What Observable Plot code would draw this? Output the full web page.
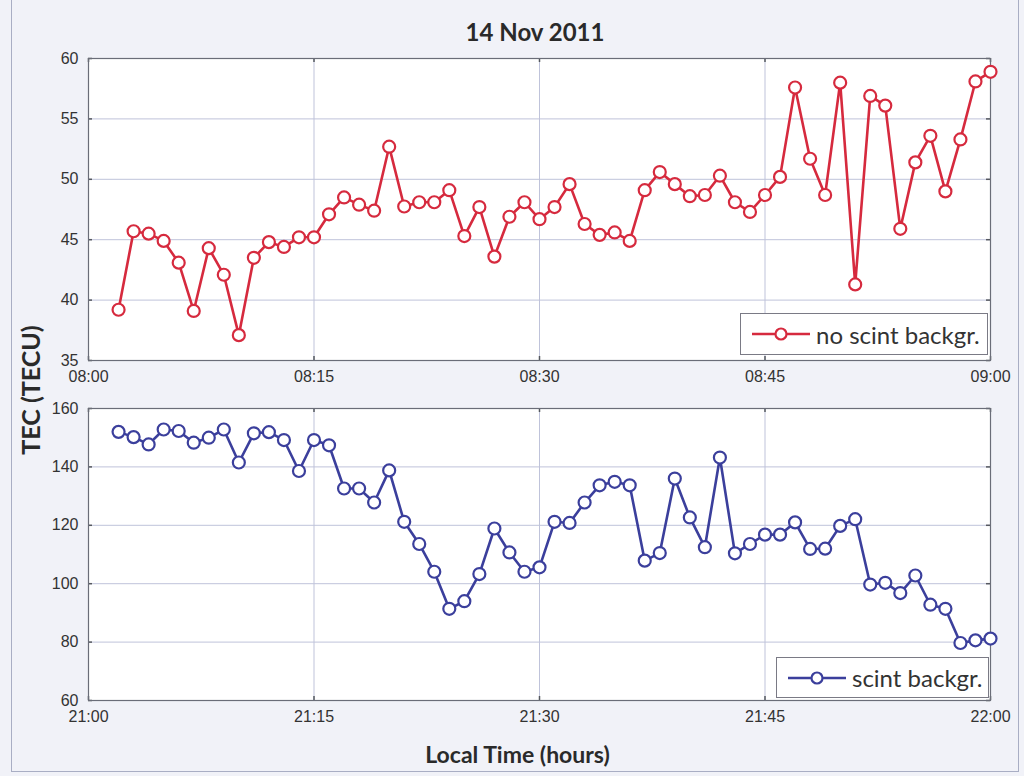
<!DOCTYPE html>
<html>
<head>
<meta charset="utf-8">
<script src="https://cdn.jsdelivr.net/npm/d3@7"></script>
<script src="https://cdn.jsdelivr.net/npm/@observablehq/plot@0.6"></script>
<style>
  html, body { margin: 0; padding: 0; background: #eceef5; }
  #wrap { position: relative; width: 1024px; height: 776px; overflow: hidden; background: #f1f2f8; }
  .abs { position: absolute; }
  .title { font-family: Lato, "Open Sans", sans-serif; font-weight: 700; font-size: 24px; color: #2a2a2a; }
  .legend { position: absolute; background: #ffffff; border: 1px solid #7a7a85; display: flex; align-items: center; box-sizing: border-box; }
  .legend span { font-family: Lato, "Open Sans", sans-serif; font-size: 24px; color: #333; white-space: nowrap; }
</style>
</head>
<body>
<div id="wrap">
  <div class="abs" style="left:11px;top:-2px;width:1008px;height:774px;border:1px solid #a9aec4;box-sizing:border-box;"></div>
  <div class="abs title" style="left:0;width:1070px;top:17px;text-align:center;">14 Nov 2011</div>
  <div id="top" class="abs" style="left:0;top:48px;"></div>
  <div id="bot" class="abs" style="left:0;top:390px;"></div>
  <div class="abs title" style="left:30px;top:390px;width:0;height:0;">
    <div style="position:absolute;transform:translate(-50%,-50%) rotate(-90deg);white-space:nowrap;font-size:25px;">TEC (TECU)</div>
  </div>
  <div class="abs title" style="left:0;width:1035px;top:740px;text-align:center;font-size:23px;">Local Time (hours)</div>
  <div id="legTop" class="legend" style="left:740px;top:313px;width:248px;height:42px;"></div>
  <div id="legBot" class="legend" style="left:776px;top:657px;width:213px;height:41px;"></div>
</div>
<script>
// minutes past the hour of each sample
const minutes = [2,3,4,5,6,7,8,9,10,11,12,13,14,15,16,17,18,19,20,21,22,23,24,25,26,27,28,29,30,31,32,33,34,35,36,37,38,39,40,41,42,43,44,45,46,47,48,49,50,51,52,53,54,55,56,57,58,59,60];
// 08:02 - 09:00, no scintillation background
const tecNoScint = [39.2,45.7,45.5,44.9,43.1,39.1,44.3,42.1,37.1,43.5,44.8,44.4,45.2,45.2,47.1,48.5,47.9,47.4,52.7,47.75,48.1,48.1,49.1,45.3,47.7,43.6,46.9,48.1,46.7,47.7,49.6,46.3,45.4,45.6,44.9,49.1,50.6,49.6,48.6,48.7,50.3,48.1,47.3,48.7,50.2,57.6,51.7,48.7,58.0,41.3,56.9,56.1,45.9,51.4,53.6,49.0,53.3,58.1,58.9];
// 21:02 - 22:00, scintillation background
const tecScint = [152.0,150.2,147.7,152.8,152.3,148.3,150.0,152.8,141.5,151.5,151.9,149.2,138.6,149.2,147.4,132.6,132.6,127.8,138.8,121.2,113.6,104.1,91.4,94.0,103.3,118.9,110.7,104.1,105.6,121.2,120.8,127.8,133.7,134.9,133.7,107.9,110.5,136.0,122.7,112.5,143.2,110.4,113.6,116.8,116.8,121.0,111.9,112.0,119.8,122.1,99.7,100.3,96.8,102.8,92.8,91.4,79.7,80.6,81.2];

const xTicks = [0,15,30,45,60];
const topXLabels = ["08:00","08:15","08:30","08:45","09:00"];
const botXLabels = ["21:00","21:15","21:30","21:45","22:00"];
const topYTicks = [35,40,45,50,55,60];
const botYTicks = [60,80,100,120,140,160];
const seriesNames = ["no scint backgr.", "scint backgr."];
const colors = ["#d62a3e", "#3b3f9c"];

function panel(values, labels, yTicks, yDomain, color, height, marginTop) {
  const data = minutes.map((m, i) => ({m, v: values[i]}));
  const marginBottom = 30, marginLeft = 88, marginRight = 34, width = 1024;
  const fh = height - marginTop - marginBottom;
  const fw = width - marginLeft - marginRight;
  const axisColor = "#55585f";
  return Plot.plot({
    width, height, marginLeft, marginRight, marginTop, marginBottom,
    style: {background: "transparent", fontFamily: "'Liberation Sans', Arial, sans-serif", fontSize: "16px", color: "#333"},
    x: {domain: [0, 60], label: null},
    y: {domain: yDomain, label: null},
    marks: [
      Plot.frame({fill: "white", stroke: null}),
      Plot.gridX(xTicks, {stroke: "#bfc3da", strokeOpacity: 1, strokeWidth: 1}),
      Plot.gridY(yTicks, {stroke: "#bfc3da", strokeOpacity: 1, strokeWidth: 1}),
      Plot.ruleX(xTicks, {insetTop: fh - 4, stroke: axisColor, strokeWidth: 1.5}),
      Plot.ruleX(xTicks, {insetBottom: fh - 4, stroke: axisColor, strokeWidth: 1.5}),
      Plot.ruleY(yTicks, {insetRight: fw - 4, stroke: axisColor, strokeWidth: 1.5}),
      Plot.ruleY(yTicks, {insetLeft: fw - 4, stroke: axisColor, strokeWidth: 1.5}),
      Plot.frame({stroke: "#6a6d78", strokeWidth: 1.2}),
      Plot.line(data, {x: "m", y: "v", stroke: color, strokeWidth: 2.6}),
      Plot.dot(data, {x: "m", y: "v", r: 6, stroke: color, strokeWidth: 2.2, fill: "white"}),
      Plot.axisX({ticks: xTicks, tickFormat: d => labels[xTicks.indexOf(d)], tickSize: 0, tickPadding: 10, fill: "#333", label: null}),
      Plot.axisY({ticks: yTicks, tickSize: 0, tickPadding: 10, fill: "#333", label: null})
    ]
  });
}

document.getElementById("top").appendChild(panel(tecNoScint, topXLabels, topYTicks, [35, 60], colors[0], 342, 10));
document.getElementById("bot").appendChild(panel(tecScint, botXLabels, botYTicks, [60, 160], colors[1], 340, 18));

function legend(el, name, color, lineW) {
  const ns = "http://www.w3.org/2000/svg";
  const svg = document.createElementNS(ns, "svg");
  svg.setAttribute("width", lineW + 22);
  svg.setAttribute("height", 20);
  svg.style.marginLeft = "10px";
  const ln = document.createElementNS(ns, "line");
  ln.setAttribute("x1", 1); ln.setAttribute("x2", lineW + 1);
  ln.setAttribute("y1", 10); ln.setAttribute("y2", 10);
  ln.setAttribute("stroke", color); ln.setAttribute("stroke-width", 2.6);
  const c = document.createElementNS(ns, "circle");
  c.setAttribute("cx", lineW / 2 + 1); c.setAttribute("cy", 10); c.setAttribute("r", 5.5);
  c.setAttribute("fill", "white"); c.setAttribute("stroke", color); c.setAttribute("stroke-width", 2.2);
  svg.appendChild(ln); svg.appendChild(c);
  const sp = document.createElement("span");
  sp.textContent = name;
  sp.style.marginLeft = "-15px";
  el.appendChild(svg); el.appendChild(sp);
}
legend(document.getElementById("legTop"), seriesNames[0], colors[0], 58);
legend(document.getElementById("legBot"), seriesNames[1], colors[1], 58);
</script>
</body>
</html>
